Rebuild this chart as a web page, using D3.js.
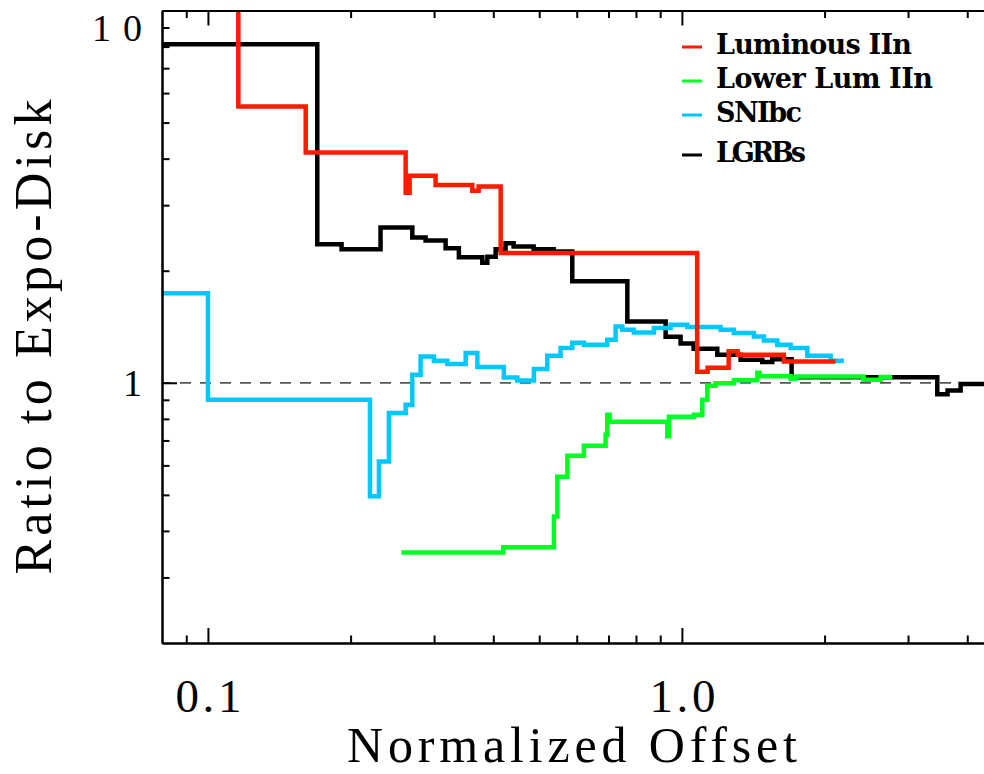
<!DOCTYPE html>
<html><head><meta charset="utf-8">
<script src="https://cdn.jsdelivr.net/npm/d3@7"></script>
<style>body{margin:0;background:#fff} svg{display:block}</style>
</head><body>
<svg id="chart" width="984" height="774"></svg>
<script>
// ---------- data ----------
const xTickValues = [0.1, 1.0];
const xTickLabels = ["0.1", "1.0"];
const yTickValues = [1, 10];
const yTickLabels = ["1", "10"];
const xMinorTicks = [0.09, 0.2, 0.3, 0.4, 0.5, 0.6, 0.7, 0.8, 0.9, 2, 3, 4];
const yMinorTicks = [0.3, 0.4, 0.5, 0.6, 0.7, 0.8, 0.9, 2, 3, 4, 5, 6, 7, 8, 9];

const seriesNames  = ["Luminous IIn", "Lower Lum IIn", "SNIbc", "LGRBs"];
const seriesColors = ["#ff1a00", "#00ff22", "#00c8ff", "#000000"];

// step series: each x is where a step begins, y the value from there on (last pair closes the line)
const lumX = [0.1159, 0.1159, 0.1608, 0.2613, 0.2664, 0.3022, 0.3612, 0.3725, 0.4146, 1.077, 1.133, 1.255, 1.311, 1.641, 2.110];
const lumY = [10.5, 5.525, 4.152, 3.237, 3.601, 3.401, 3.282, 3.365, 2.230, 1.070, 1.097, 1.215, 1.189, 1.141, 1.141];

const lowX = [0.2559, 0.4199, 0.5370, 0.5460, 0.5732, 0.6212, 0.6902, 0.6959, 0.7038, 0.9316, 0.9388, 1.0600, 1.1042, 1.1312, 1.1778, 1.2871, 1.4425, 1.4585, 1.6959, 1.7377, 2.4165, 2.6262, 2.7789];
const lowY = [0.3503, 0.3617, 0.4376, 0.5593, 0.6369, 0.6774, 0.7249, 0.8205, 0.7857, 0.7182, 0.8103, 0.8205, 0.9001, 0.9816, 0.9969, 1.0156, 1.0638, 1.0410, 1.0250, 1.0397, 1.0187, 1.0359, 1.0359];

const snX = [0.08, 0.1, 0.2197, 0.2295, 0.2409, 0.2613, 0.2699, 0.2810, 0.2997, 0.3199, 0.3498, 0.3702, 0.4211, 0.4494, 0.4873, 0.5200, 0.5547, 0.5871, 0.6212, 0.6959, 0.7246, 0.7487, 0.7920, 0.8727, 0.9467, 1.0266, 1.2067, 1.2871, 1.4187, 1.4894, 1.5895, 1.6959, 1.8389, 2.0596, 2.1965];
const snY = [1.741, 0.9001, 0.4958, 0.6148, 0.8291, 0.8728, 1.0507, 1.1767, 1.1457, 1.1225, 1.2015, 1.1019, 1.0333, 1.0143, 1.0884, 1.1817, 1.2394, 1.2801, 1.2647, 1.3045, 1.4162, 1.3877, 1.3647, 1.4025, 1.4316, 1.4113, 1.3877, 1.3597, 1.3313, 1.2990, 1.2647, 1.2394, 1.1817, 1.1457, 1.1457];

const grbX = [0.08, 0.1701, 0.1914, 0.2313, 0.2699, 0.2879, 0.3173, 0.3384, 0.3792, 0.3886, 0.4046, 0.4246, 0.4415, 0.4866, 0.5363, 0.5871, 0.7671, 0.9240, 0.9937, 1.0585, 1.1876, 1.3301, 1.4777, 1.5510, 1.7040, 3.458, 3.635, 3.873, 4.5];
const grbY = [8.116, 2.357, 2.285, 2.612, 2.455, 2.410, 2.299, 2.175, 2.100, 2.179, 2.283, 2.371, 2.322, 2.283, 2.252, 1.873, 1.461, 1.329, 1.276, 1.234, 1.189, 1.153, 1.137, 1.157, 1.035, 0.9314, 0.9535, 0.992, 0.992];

const refLevel = 1;

// ---------- layout ----------
const svg = d3.select("#chart");
const L = 162, R = 991.5, T = 10.5, B = 643;
const x = d3.scaleLog().domain([0.08, 4.5]).range([L, R]);
const y = d3.scaleLog().domain([0.2, 10]).range([B, T]);

svg.append("defs").append("clipPath").attr("id", "plotclip")
  .append("rect").attr("x", L).attr("y", T).attr("width", R - L).attr("height", B - T);

// reference dashed line
svg.append("line")
  .attr("x1", L).attr("x2", R).attr("y1", y(refLevel)).attr("y2", y(refLevel))
  .attr("stroke", "#555").attr("stroke-width", 1.7)
  .attr("stroke-dasharray", "11,9").attr("stroke-dashoffset", 2);

// series
const line = d3.line().x(d => x(d[0])).y(d => y(d[1])).curve(d3.curveStepAfter);
const series = [
  {xs: grbX, ys: grbY, c: seriesColors[3]},
  {xs: snX,  ys: snY,  c: seriesColors[2]},
  {xs: lowX, ys: lowY, c: seriesColors[1]},
  {xs: lumX, ys: lumY, c: seriesColors[0]}
];
const g = svg.append("g").attr("clip-path", "url(#plotclip)");
series.forEach(s => {
  g.append("path")
    .datum(s.xs.map((v, i) => [v, s.ys[i]]))
    .attr("d", line)
    .attr("fill", "none")
    .attr("stroke", s.c)
    .attr("stroke-width", 4.5)
    .attr("stroke-linejoin", "miter");
});

// ---------- axes ----------
function styleAxis(sel) {
  sel.selectAll("path.domain").attr("stroke", "#000").attr("stroke-width", 2);
  sel.selectAll(".tick line").attr("stroke", "#000").attr("stroke-width", 2);
}
const fmtX = d => xTickLabels[xTickValues.indexOf(d)];
const fmtY = d => yTickLabels[yTickValues.indexOf(d)];

// bottom major
const gb = svg.append("g").attr("transform", `translate(0,${B})`)
  .call(d3.axisBottom(x).tickValues(xTickValues).tickFormat(fmtX).tickSize(-15).tickSizeOuter(0));
styleAxis(gb);
gb.selectAll(".tick text")
  .attr("y", 0).attr("dy", 69)
  .attr("font-family", "Liberation Serif").attr("font-size", 47)
  .attr("fill", "#000").attr("textLength", 66).attr("lengthAdjust", "spacing");
// bottom minor
styleAxis(svg.append("g").attr("transform", `translate(0,${B})`)
  .call(d3.axisBottom(x).tickValues(xMinorTicks).tickFormat("").tickSize(-7.5).tickSizeOuter(0)));

// top
styleAxis(svg.append("g").attr("transform", `translate(0,${T})`)
  .call(d3.axisTop(x).tickValues(xTickValues).tickFormat("").tickSize(-15).tickSizeOuter(0)));
styleAxis(svg.append("g").attr("transform", `translate(0,${T})`)
  .call(d3.axisTop(x).tickValues(xMinorTicks).tickFormat("").tickSize(-7.5).tickSizeOuter(0)));

// left major
const gl = svg.append("g").attr("transform", `translate(${L},0)`)
  .call(d3.axisLeft(y).tickValues(yTickValues).tickFormat(fmtY).tickSize(-15).tickSizeOuter(0));
styleAxis(gl);
gl.selectAll(".tick text")
  .attr("x", -20).attr("dy", d => d === 10 ? 30 : 13)
  .attr("font-family", "Liberation Serif").attr("font-size", 38)
  .attr("fill", "#000").attr("text-anchor", "end");
gl.selectAll(".tick text").filter(d => d === 10).attr("textLength", 50).attr("lengthAdjust", "spacing");
// left minor
styleAxis(svg.append("g").attr("transform", `translate(${L},0)`)
  .call(d3.axisLeft(y).tickValues(yMinorTicks).tickFormat("").tickSize(-7.5).tickSizeOuter(0)));

// axis titles
svg.append("text")
  .attr("x", 572).attr("y", 762)
  .attr("text-anchor", "middle")
  .attr("font-family", "Liberation Serif").attr("font-size", 50)
  .attr("textLength", 450).attr("lengthAdjust", "spacing")
  .text("Normalized Offset");

svg.append("text")
  .attr("transform", "translate(51,337) rotate(-90)")
  .attr("text-anchor", "middle")
  .attr("font-family", "Liberation Serif").attr("font-size", 52)
  .attr("textLength", 475).attr("lengthAdjust", "spacing")
  .text("Ratio to Expo-Disk");

// ---------- legend ----------
const legendBaselines = [54, 88, 122, 162];
const legendWidths = [196, 217, 86, 90];
const lg = svg.append("g");
seriesNames.forEach((name, i) => {
  lg.append("line")
    .attr("x1", 682).attr("x2", 702)
    .attr("y1", legendBaselines[i] - 7).attr("y2", legendBaselines[i] - 7)
    .attr("stroke", seriesColors[i]).attr("stroke-width", 3);
  lg.append("text")
    .attr("x", 716).attr("y", legendBaselines[i])
    .attr("font-family", "DejaVu Serif").attr("font-size", 27).attr("font-weight", "bold")
    .attr("textLength", legendWidths[i]).attr("lengthAdjust", "spacing")
    .attr("fill", "#000")
    .text(name);
});
</script>
</body></html>
